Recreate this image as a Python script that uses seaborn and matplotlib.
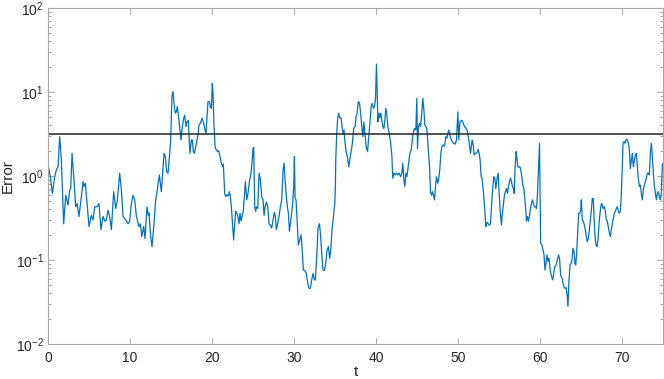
import numpy as np
import pandas as pd
import matplotlib
matplotlib.use("Agg")
import matplotlib.pyplot as plt
import seaborn as sns

# time samples
t = [0, 0.29, 0.53, 0.82, 1.02, 1.22, 1.43, 1.63, 1.91, 2.16, 2.44, 2.65, 2.77, 2.93, 3.17, 3.38, 3.54, 3.78,
     4.07, 4.27, 4.39, 4.56, 4.76, 5.0, 5.29, 5.49, 5.7, 5.98, 6.22, 6.46, 6.71, 6.95, 7.12, 7.32, 7.52, 7.73,
     8.01, 8.26, 8.46, 8.74, 8.95, 9.15, 9.48, 9.76, 9.96, 10.17, 10.37, 10.57, 10.78, 11.1, 11.27, 11.43,
     11.67, 11.83, 12.07, 12.24, 12.32, 12.52, 12.68, 12.93, 13.13, 13.33, 13.58, 13.82, 14.15, 14.31, 14.47,
     14.64, 14.84, 14.96, 15.12, 15.25, 15.37, 15.53, 15.65, 15.77, 15.94, 16.1, 16.22, 16.38, 16.55, 16.67,
     16.83, 16.95, 17.12, 17.24, 17.32, 17.48, 17.6, 17.72, 17.85, 18.01, 18.17, 18.29, 18.42, 18.58, 18.78,
     18.94, 19.11, 19.27, 19.39, 19.51, 19.68, 19.8, 19.92, 20.04, 20.12, 20.25, 20.37, 20.53, 20.69, 20.81,
     20.98, 21.14, 21.3, 21.38, 21.55, 21.67, 21.83, 21.99, 22.12, 22.24, 22.36, 22.52, 22.64, 22.77, 22.89,
     23.01, 23.17, 23.29, 23.42, 23.54, 23.66, 23.82, 23.94, 24.07, 24.23, 24.39, 24.59, 24.72, 24.88, 25.0,
     25.09, 25.21, 25.33, 25.41, 25.58, 25.74, 25.9, 26.06, 26.23, 26.35, 26.47, 26.63, 26.8, 26.96, 27.12,
     27.28, 27.45, 27.61, 27.73, 27.85, 28.01, 28.18, 28.34, 28.5, 28.67, 28.79, 28.91, 29.07, 29.19, 29.32,
     29.44, 29.56, 29.68, 29.8, 29.97, 30.05, 30.13, 30.25, 30.37, 30.53, 30.7, 30.86, 30.98, 31.14, 31.31,
     31.51, 31.67, 31.84, 32.0, 32.16, 32.32, 32.49, 32.61, 32.77, 32.93, 33.1, 33.22, 33.38, 33.54, 33.71,
     33.87, 34.03, 34.19, 34.36, 34.48, 34.64, 34.84, 34.97, 35.05, 35.09, 35.21, 35.33, 35.45, 35.58, 35.74,
     35.86, 35.98, 36.1, 36.19, 36.35, 36.51, 36.67, 36.8, 36.96, 37.12, 37.28, 37.45, 37.57, 37.69, 37.81,
     37.87, 37.99, 38.11, 38.27, 38.4, 38.52, 38.68, 38.8, 38.97, 39.09, 39.25, 39.41, 39.53, 39.7, 39.82,
     39.94, 40.06, 40.14, 40.23, 40.35, 40.47, 40.59, 40.71, 40.84, 40.96, 41.08, 41.2, 41.32, 41.45, 41.61,
     41.77, 41.93, 42.05, 42.18, 42.34, 42.5, 42.66, 42.83, 42.99, 43.15, 43.27, 43.4, 43.52, 43.64, 43.76,
     43.88, 44.01, 44.13, 44.29, 44.41, 44.53, 44.7, 44.86, 44.98, 45.06, 45.18, 45.31, 45.43, 45.59, 45.71,
     45.84, 45.96, 46.08, 46.2, 46.36, 46.53, 46.65, 46.77, 46.89, 47.01, 47.14, 47.26, 47.38, 47.54, 47.66,
     47.79, 47.91, 48.03, 48.19, 48.36, 48.52, 48.64, 48.76, 48.88, 49.01, 49.13, 49.29, 49.45, 49.66, 49.82,
     49.98, 50.1, 50.23, 50.39, 50.55, 50.71, 50.79, 50.99, 51.11, 51.32, 51.52, 51.72, 51.85, 51.97, 52.13,
     52.33, 52.46, 52.58, 52.7, 52.82, 52.94, 53.15, 53.27, 53.39, 53.51, 53.68, 53.8, 53.96, 54.08, 54.25,
     54.37, 54.49, 54.61, 54.77, 54.9, 55.02, 55.14, 55.3, 55.42, 55.55, 55.67, 55.79, 55.91, 56.03, 56.16,
     56.28, 56.4, 56.52, 56.64, 56.77, 56.85, 56.97, 57.09, 57.17, 57.29, 57.42, 57.54, 57.66, 57.78, 57.9,
     58.03, 58.15, 58.27, 58.35, 58.47, 58.59, 58.72, 58.84, 58.96, 59.08, 59.2, 59.33, 59.45, 59.57, 59.69,
     59.81, 59.94, 60.08, 60.24, 60.37, 60.49, 60.61, 60.73, 60.85, 60.98, 61.1, 61.26, 61.42, 61.54, 61.67,
     61.79, 61.95, 62.11, 62.28, 62.4, 62.52, 62.68, 62.81, 62.93, 63.05, 63.17, 63.29, 63.41, 63.54, 63.66,
     63.78, 63.9, 64.02, 64.15, 64.27, 64.35, 64.47, 64.59, 64.72, 64.84, 64.96, 65.04, 65.16, 65.28, 65.41,
     65.53, 65.65, 65.77, 65.89, 66.02, 66.14, 66.26, 66.38, 66.5, 66.59, 66.71, 66.83, 66.95, 67.07, 67.2,
     67.32, 67.44, 67.56, 67.68, 67.85, 67.97, 68.09, 68.21, 68.33, 68.46, 68.58, 68.7, 68.82, 68.94, 69.07,
     69.19, 69.31, 69.43, 69.55, 69.67, 69.8, 69.92, 70.04, 70.12, 70.25, 70.37, 70.49, 70.61, 70.73, 70.86,
     70.94, 71.02, 71.14, 71.26, 71.38, 71.51, 71.63, 71.75, 71.87, 71.99, 72.12, 72.24, 72.36, 72.48, 72.6,
     72.73, 72.85, 72.97, 73.09, 73.21, 73.33, 73.46, 73.58, 73.7, 73.82, 73.94, 74.07, 74.19, 74.31, 74.43,
     74.55, 74.68, 74.8, 74.92, 75.0]

# error values
error = [1.35, 0.98, 0.62, 0.98, 1.18, 1.29, 2.94, 1.55, 0.27, 0.59, 0.45, 0.68, 0.71, 1.86, 0.90, 0.43, 0.47, 0.33,
         0.57, 0.86, 0.75, 0.82, 0.47, 0.25, 0.34, 0.30, 0.43, 0.43, 0.47, 0.23, 0.33, 0.29, 0.30, 0.39, 0.33, 0.23,
         0.65, 0.41, 0.52, 1.08, 0.68, 0.33, 0.30, 0.27, 0.29, 0.47, 0.59, 0.52, 0.33, 0.25, 0.27, 0.19,
         0.25, 0.18, 0.43, 0.34, 0.36, 0.19, 0.144, 0.27, 0.52, 0.68, 1.03, 0.65, 1.86, 1.70, 1.13,
         1.08, 1.86, 2.69, 8.8, 10.1, 7.3, 5.6, 5.8, 6.7, 4.9, 3.53, 2.69, 3.86, 4.9, 5.3,
         3.86, 4.4, 4.6, 2.45, 1.86, 2.69, 2.69, 1.95, 1.86, 2.23, 2.69, 3.08, 4.05, 4.24, 4.9,
         4.4, 3.70, 3.22, 4.9, 7.7, 7.7, 6.7, 6.4, 12.7, 9.6, 3.86, 2.23, 2.04, 1.95, 2.0,
         1.70, 1.42, 1.29, 1.39, 0.62, 0.57, 0.60, 0.58, 0.65, 0.57, 0.43, 0.25, 0.173, 0.27, 0.38,
         0.36, 0.33, 0.27, 0.36, 0.29, 0.33, 0.38, 0.57, 0.86, 0.52, 0.62, 0.90, 1.03, 1.42, 2.13,
         2.19, 0.43, 0.38, 0.43, 0.41, 1.08, 0.90, 0.57, 0.52, 0.34, 0.43, 0.49, 0.43, 0.27, 0.26,
         0.24, 0.30, 0.37, 0.33, 0.23, 0.27, 0.33, 0.43, 0.52, 1.18, 1.42, 0.90, 0.57, 0.43, 0.36,
         0.22, 0.27, 0.34, 0.43, 0.75, 1.70, 0.54, 0.52, 0.30, 0.151, 0.173, 0.199, 0.144, 0.076, 0.075,
         0.069, 0.053, 0.046, 0.046, 0.058, 0.069, 0.058, 0.058, 0.110, 0.24, 0.27, 0.21, 0.12, 0.076, 0.075,
         0.091, 0.131, 0.144, 0.105, 0.131, 0.23, 0.36, 0.47, 0.75, 1.55, 3.22, 4.9, 5.6, 4.9, 4.9,
         3.86, 3.22, 3.53, 2.69, 1.95, 1.70, 1.29, 1.55, 1.95, 2.45, 3.70, 3.86, 5.1, 5.6, 7.3,
         7.7, 7.3, 5.8, 3.86, 2.94, 4.4, 2.94, 2.23, 1.95, 2.69, 4.24, 6.7, 7.3, 6.4, 6.7,
         8.4, 21.5, 10.6, 4.4, 5.6, 4.9, 5.6, 4.6, 3.86, 3.69, 4.6, 6.4, 5.3, 3.86, 3.22,
         2.56, 1.78, 0.94, 1.08, 1.03, 1.08, 1.03, 1.08, 0.98, 1.08, 1.42, 0.90, 0.75, 1.08, 0.98,
         1.18, 1.48, 1.86, 2.04, 2.56, 3.22, 3.69, 3.53, 8.4, 2.13, 3.86, 4.24, 3.86, 5.8, 8.4,
         6.1, 4.05, 3.86, 3.69, 2.23, 1.29, 0.65, 0.59, 0.65, 0.59, 0.52, 0.75, 0.98, 0.82, 0.94,
         1.23, 1.86, 2.23, 2.34, 2.27, 2.94, 2.81, 3.22, 3.53, 3.08, 2.81, 2.56, 2.45, 2.40, 2.69,
         5.8, 2.69, 4.4, 4.6, 4.5, 4.05, 3.86, 3.70, 3.53, 2.69, 1.86, 2.69, 2.34, 1.78, 1.86,
         1.90, 2.07, 1.86, 1.55, 0.98, 0.94, 0.57, 0.39, 0.25, 0.28, 0.27, 0.26, 0.27, 0.43, 0.75,
         0.98, 0.94, 0.71, 0.94, 1.08, 0.62, 0.39, 0.26, 0.36, 0.47, 0.60, 0.65, 0.71, 0.62, 0.75,
         0.86, 0.94, 0.86, 0.75, 0.71, 0.62, 1.29, 1.95, 1.70, 1.29, 1.27, 1.29, 1.18, 0.98, 0.78,
         0.71, 0.52, 0.39, 0.29, 0.33, 0.29, 0.34, 0.41, 0.47, 0.52, 0.47, 0.43, 0.43, 0.41, 0.60,
         1.18, 2.45, 0.158, 0.151, 0.132, 0.115, 0.076, 0.091, 0.115, 0.096, 0.105, 0.073, 0.063, 0.058, 0.069,
         0.083, 0.087, 0.100, 0.115, 0.100, 0.066, 0.061, 0.053, 0.048, 0.046, 0.047, 0.040, 0.028, 0.058, 0.087,
         0.091, 0.100, 0.138, 0.126, 0.091, 0.087, 0.120, 0.21, 0.36, 0.36, 0.39, 0.52, 0.30, 0.29, 0.26,
         0.23, 0.19, 0.165, 0.18, 0.23, 0.30, 0.39, 0.54, 0.54, 0.33, 0.19, 0.151, 0.144, 0.173, 0.27,
         0.36, 0.45, 0.47, 0.41, 0.43, 0.38, 0.30, 0.29, 0.25, 0.21, 0.19, 0.23, 0.27, 0.31, 0.36,
         0.38, 0.41, 0.43, 0.38, 0.36, 0.38, 0.62, 1.29, 2.45, 2.56, 2.45, 2.69, 2.74, 2.56, 2.23,
         1.70, 1.23, 1.55, 1.86, 1.29, 1.55, 1.78, 1.86, 1.29, 0.94, 0.75, 0.78, 0.62, 0.52, 0.68,
         0.78, 0.86, 0.94, 1.08, 1.08, 1.03, 1.86, 2.45, 1.70, 1.08, 0.78, 0.62, 0.52, 0.62, 0.65,
         0.57, 0.52, 0.65, 1.33, 1.42]

threshold = 3.2
x_ticks = [0, 10, 20, 30, 40, 50, 60, 70]
x_label = "t"
y_label = "Error"

sns.set_theme(style="ticks")
plt.rcParams['font.family'] = ['Liberation Sans', 'DejaVu Sans']
plt.rcParams['mathtext.default'] = 'regular'

df = pd.DataFrame({"t": t, "error": error})

fig = plt.figure(figsize=(6.64, 3.79), dpi=100)
ax = fig.add_axes([48 / 664, 1 - 344 / 379, 615 / 664, 336 / 379])

sns.lineplot(data=df, x="t", y="error", ax=ax, color="#0072BD", linewidth=0.9,
             estimator=None, sort=False)
ax.axhline(threshold, color="#262626", linewidth=1.1)

ax.set_yscale("log")
ax.set_xlim(0, 75)
ax.set_ylim(1e-2, 1e2)
ax.set_xticks(x_ticks)
ax.set_xlabel(x_label, fontsize=11, color="#262626", labelpad=0)
ax.set_ylabel(y_label, fontsize=11, color="#262626", labelpad=1)

for s in ax.spines.values():
    s.set_visible(True)
    s.set_color("#a6a6a6")
    s.set_linewidth(0.8)

ax.tick_params(which="both", direction="in", top=True, right=True, color="#a6a6a6",
               labelcolor="#262626", labelsize=10, width=0.7)
ax.tick_params(which="major", length=4)
ax.tick_params(which="minor", length=2.5)
ax.tick_params(axis="x", pad=5)
ax.tick_params(axis="y", pad=3)
ax.xaxis.set_minor_locator(matplotlib.ticker.NullLocator())
ax.grid(False)

fig.savefig("out.png", dpi=100)
